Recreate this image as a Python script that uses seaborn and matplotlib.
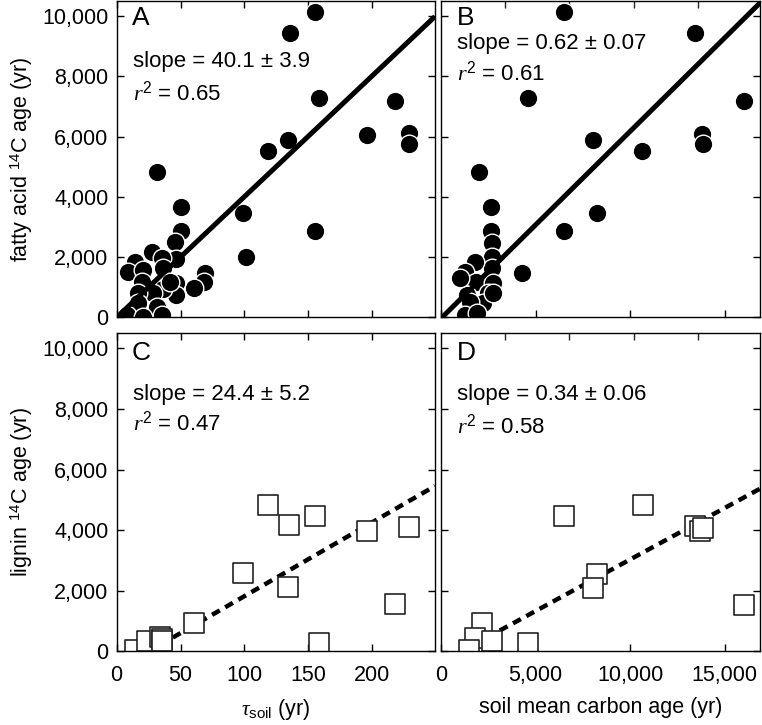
import pandas as pd
import matplotlib
matplotlib.use("Agg")
import matplotlib.pyplot as plt
import seaborn as sns
from matplotlib.ticker import FuncFormatter

# panel A: fatty acid 14C age vs tau_soil
tau_fa = [155.0, 135.5, 158.1, 217.5, 196.1, 228.4, 228.4, 134.2, 118.8, 31.8,
          98.5, 155.0, 101.1, 50.1, 50.1, 45.6, 69.1, 68.5, 60.5, 46.4,
          46.4, 46.4, 27.4, 35.2, 36.5, 14.4, 9.2, 20.9, 20.1, 36.5,
          28.7, 17.0, 17.0, 31.3, 7.9, 35.2, 20.9, 41.7]
fa_age_tau = [10129, 9434, 7281, 7181, 6044, 6122, 5747, 5901, 5515, 4830,
              3450, 2865, 1993, 3649, 2865, 2512, 1487, 1187, 966, 1927,
              1154, 745, 2180, 1960, 1628, 1849, 1518, 1573, 1187, 933,
              800, 800, 469, 359, 83, 83, 28, 1187]

# panel B: fatty acid 14C age vs soil mean carbon age
smca_fa = [6506, 13446, 4581, 16007, 13799, 13835, 8025, 10621, 2020, 8272,
           6506, 4281, 2621, 2621, 2674, 2674, 2674, 1791, 1261, 1844,
           2762, 2497, 1349, 2232, 1526, 1261, 1879, 2762, 996]
fa_age_smca = [10129, 9434, 7281, 7181, 6100, 5747, 5901, 5515, 4830, 3450,
               2865, 1463, 3671, 2865, 2456, 2015, 1628, 1849, 1518, 1187,
               1132, 822, 745, 491, 524, 83, 138, 800, 1298]

# panel C: lignin 14C age vs tau_soil
tau_lig = [118.5, 135.0, 155.0, 196.1, 228.4, 99.0, 134.2, 218.0, 14.4, 23.5,
           33.9, 35.2, 35.7, 60.7, 158.0]
lig_age_tau = [4846, 4184, 4482, 3963, 4106, 2582, 2107, 1556, 30, 351,
               483, 397, 341, 947, 265]

# panel D: lignin 14C age vs soil mean carbon age
smca_lig = [10656, 6506, 13446, 13675, 13835, 8272, 8060, 16007, 4614, 2145,
            1790, 2675, 1450]
lig_age_smca = [4846, 4482, 4150, 3963, 4073, 2560, 2085, 1533, 285, 947,
                450, 341, 30]

# regression lines: slope, intercept, x start, x end
fit_slope = [40.1, 0.62, 24.4, 0.34]
fit_intercept = [0, -25, -620, -370]
fit_x0 = [0, 0, 44, 3100]
fit_x1 = [249, 16900, 249, 16900]

panel_letters = ["A", "B", "C", "D"]
slope_texts = ["slope = 40.1 \u00b1 3.9", "slope = 0.62 \u00b1 0.07",
               "slope = 24.4 \u00b1 5.2", "slope = 0.34 \u00b1 0.06"]
r2_values = ["0.65", "0.61", "0.47", "0.58"]

sns.set_theme(style="ticks")
plt.rcParams["font.family"] = ["Liberation Sans", "DejaVu Sans"]
plt.rcParams["mathtext.fontset"] = "custom"
plt.rcParams["mathtext.rm"] = "Liberation Sans"
plt.rcParams["mathtext.it"] = "Liberation Serif:italic"
plt.rcParams["mathtext.sf"] = "Liberation Sans"
plt.rcParams["axes.edgecolor"] = "black"
plt.rcParams["axes.linewidth"] = 1.0
plt.rcParams["text.color"] = "black"
plt.rcParams["axes.labelcolor"] = "black"

fig = plt.figure(figsize=(7.62, 7.25), dpi=100)
ax_a = fig.add_axes([0.1530, 0.5621, 0.4178, 0.4365])
ax_b = fig.add_axes([0.5790, 0.5621, 0.4190, 0.4365])
ax_c = fig.add_axes([0.1530, 0.1017, 0.4178, 0.4386])
ax_d = fig.add_axes([0.5790, 0.1017, 0.4190, 0.4386])
axes = [ax_a, ax_b, ax_c, ax_d]

df_a = pd.DataFrame({"x": tau_fa, "y": fa_age_tau})
df_b = pd.DataFrame({"x": smca_fa, "y": fa_age_smca})
df_c = pd.DataFrame({"x": tau_lig, "y": lig_age_tau})
df_d = pd.DataFrame({"x": smca_lig, "y": lig_age_smca})

# circles for fatty acids, open squares for lignin
for ax, df in [(ax_a, df_a), (ax_b, df_b)]:
    sns.scatterplot(data=df, x="x", y="y", ax=ax, marker="o", s=180,
                    color="black", edgecolor="white", linewidth=1.0, zorder=3)
for ax, df in [(ax_c, df_c), (ax_d, df_d)]:
    sns.scatterplot(data=df, x="x", y="y", ax=ax, marker="s", s=200,
                    color="white", edgecolor="#222222", linewidth=1.2, zorder=3)

for i, ax in enumerate(axes):
    xs = [fit_x0[i], fit_x1[i]]
    ys = [fit_slope[i] * x + fit_intercept[i] for x in xs]
    if i < 2:
        ax.plot(xs, ys, color="black", lw=3.6, solid_capstyle="butt", zorder=4)
    else:
        ax.plot(xs, ys, color="black", lw=3.2, dashes=(2.0, 1.4),
                dash_capstyle="butt", zorder=2)

fmt = FuncFormatter(lambda v, p: f"{v:,.0f}")
for i, ax in enumerate(axes):
    ax.set_ylim(0, 10500)
    ax.set_yticks([0, 2000, 4000, 6000, 8000, 10000])
    ax.yaxis.set_major_formatter(fmt)
    ax.xaxis.set_major_formatter(fmt)
    if i % 2 == 0:
        ax.set_xlim(0, 249)
        ax.set_xticks([0, 50, 100, 150, 200])
        ax.tick_params(top=True)
    else:
        ax.set_xlim(0, 16900)
        ax.set_xticks([0, 5000, 10000, 15000])
        # top ticks sit where the tau_soil ticks are on the left panels
        scale = 249 / 16900
        top = ax.secondary_xaxis("top", functions=(lambda v: v * scale,
                                                   lambda v: v / scale))
        top.set_xticks([50, 100, 150, 200])
        top.set_xticklabels([])
        top.tick_params(direction="in", length=5, width=1.0)
        top.spines["top"].set_visible(False)
    ax.tick_params(direction="in", length=5, width=1.0, right=True,
                   labelsize=15.5, pad=6, colors="black")
    ax.tick_params(axis="x", pad=10)
    if i % 2 == 1:
        ax.tick_params(labelleft=False)
    if i < 2:
        ax.tick_params(labelbottom=False)
    ax.set_xlabel("")
    ax.set_ylabel("")
    for sp in ax.spines.values():
        sp.set_visible(True)
        sp.set_zorder(5)

letter_y = [0.946, 0.946, 0.938, 0.938]
slope_y = [0.808, 0.865, 0.806, 0.809]
r2_y = [0.710, 0.773, 0.718, 0.708]
for i, ax in enumerate(axes):
    ax.text(0.048, letter_y[i], panel_letters[i], transform=ax.transAxes,
            fontsize=19, va="center", ha="left")
    ax.text(0.050, slope_y[i], slope_texts[i], transform=ax.transAxes,
            fontsize=16, va="center", ha="left")
    ax.text(0.050, r2_y[i], r"$r^2$ = " + r2_values[i], transform=ax.transAxes,
            fontsize=16, va="center", ha="left")

ax_a.set_ylabel(r"fatty acid $^{14}$C age (yr)", fontsize=15.5)
ax_c.set_ylabel(r"lignin $^{14}$C age (yr)", fontsize=15.5)
ax_a.yaxis.set_label_coords(-0.255, 0.5)
ax_c.yaxis.set_label_coords(-0.255, 0.5)
ax_c.set_xlabel(r"$\tau_{\mathrm{soil}}$ (yr)", fontsize=15.5, labelpad=8)
ax_d.set_xlabel("soil mean carbon age (yr)", fontsize=15.5, labelpad=8)

fig.savefig("out.png", dpi=100)
